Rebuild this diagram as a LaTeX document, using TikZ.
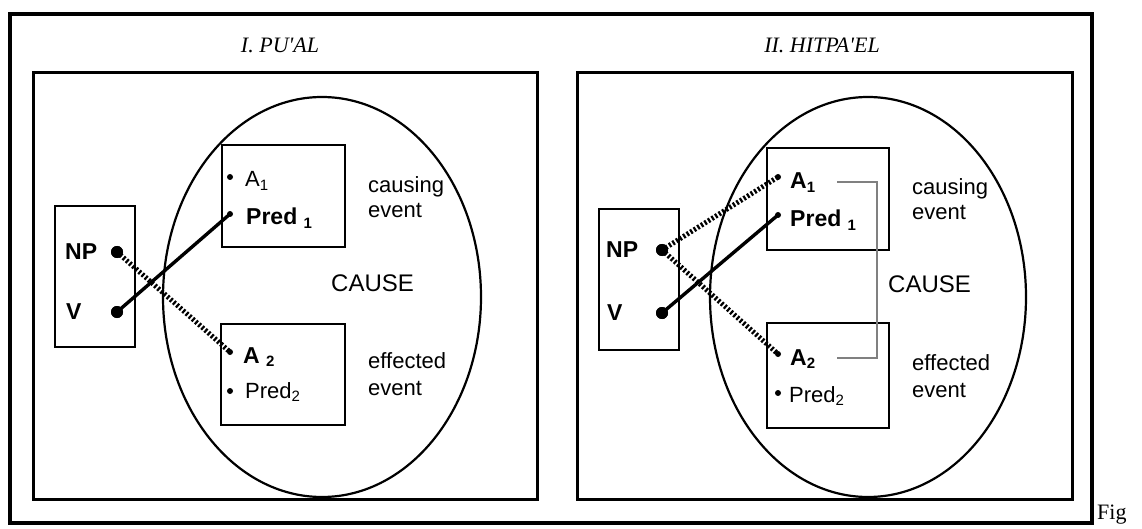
\documentclass[tikz,border=0pt]{standalone}
\usepackage{fontspec}
\setmainfont{Liberation Sans}
\newfontfamily\timesfont{Liberation Serif}
\newcommand{\sbs}[1]{\raisebox{-0.3ex}{\fontsize{15}{15}\selectfont #1}}
\tikzset{
  frame/.style={draw, line width=3.2pt},
  panel/.style={draw, line width=3pt},
  subbox/.style={draw, fill=white, line width=2.5pt},
  oval/.style={draw, line width=2.2pt},
  bigdot/.style={circle, fill, inner sep=0pt, minimum size=12pt},
  bul/.style={circle, fill, inner sep=0pt, minimum size=6pt},
  link/.style={line width=3.4pt},
  hatch/.style={line width=5pt, dash pattern=on 2.2pt off 2pt},
  brack/.style={draw=black!50, line width=1.3pt},
  lbl/.style={font=\fontsize{22}{25}\selectfont, anchor=base west, inner sep=0pt},
  bigl/.style={font=\bfseries\fontsize{23}{25}\selectfont, anchor=base west, inner sep=0pt},
  cause/.style={font=\fontsize{24}{26}\selectfont, anchor=base west, inner sep=0pt},
  title/.style={font=\timesfont\itshape\fontsize{22}{24}\selectfont, inner sep=0pt},
  evt/.style={font=\fontsize{22}{25}\selectfont, anchor=base west, inner sep=0pt, align=left}
}
\begin{document}
\begin{tikzpicture}[x=1pt, y=-1pt]
\useasboundingbox (0,0) rectangle (1142,529);

% outer frame and the two panels
\draw[frame] (10,14) rectangle (1092,523);
\draw[panel] (33,73) rectangle (537,499);
\draw[panel] (577,73) rectangle (1072,499);

\node[title] (t1) at (280,45) {I. PU'AL};
\node[title] (t2) at (822,45) {II. HITPA'EL};

% ---------- panel I ----------
\draw[oval] (322,297) ellipse [x radius=159, y radius=200];
\draw[subbox] (55,206) rectangle (135,347);
\draw[subbox] (222,145) rectangle (345,247);
\draw[subbox] (221,324) rectangle (345,425);

\node[bigl] (np1) at (65,259) {NP};
\node[bigl] (v1) at (66,319) {V};
\node[bigdot] (npd1) at (117,252) {};
\node[bigdot] (vd1) at (117,312) {};

\node[bul] (a1l) at (230,177) {};
\node[bul] (p1l) at (230,214) {};
\node[bul] (a2l) at (230,352) {};
\node[bul] (p2l) at (230,391) {};

\node[lbl] (ta1l) at (245,187) {A\sbs{1}};
\node[bigl] (tp1l) at (246,225) {Pred \sbs{1}};
\node[bigl] (ta2l) at (243,363) {A \sbs{2}};
\node[lbl] (tp2l) at (245,398) {Pred\sbs{2}};

\node[evt] (c1) at (368,193) {causing};
\node[evt] (c1b) at (368,218) {event};
\node[cause] (cau1) at (331,291) {CAUSE};
\node[evt] (e1) at (368,368) {effected};
\node[evt] (e1b) at (368,395) {event};

\draw[hatch] (npd1.center) -- (a2l.center);
\draw[link] (vd1.center) -- (p1l.center);

% ---------- panel II ----------
\draw[oval] (868,297) ellipse [x radius=158, y radius=200];
\draw[subbox] (599,209) rectangle (679,350);
\draw[subbox] (767,148) rectangle (889,250);
\draw[subbox] (767,323) rectangle (889,428);

\node[bigl] (np2) at (606,258) {NP};
\node[bigl] (v2) at (607,320) {V};
\node[bigdot] (npd2) at (662,250) {};
\node[bigdot] (vd2) at (662,313) {};

\node[bul] (a1r) at (778,177) {};
\node[bul] (p1r) at (778,215) {};
\node[bul] (a2r) at (778,354) {};
\node[bul] (p2r) at (778,393) {};

\node[bigl] (ta1r) at (790,189) {A\sbs{1}};
\node[bigl] (tp1r) at (790,227) {Pred \sbs{1}};
\node[bigl] (ta2r) at (790,365) {A\sbs{2}};
\node[lbl] (tp2r) at (789,402) {Pred\sbs{2}};

\coordinate (bk1) at (837,182);
\coordinate (bk2) at (877,182);
\coordinate (bk3) at (877,358);
\coordinate (bk4) at (837,358);
\draw[brack] (bk1) -- (bk2) -- (bk3) -- (bk4);

\node[evt] (c2) at (912,195) {causing};
\node[evt] (c2b) at (912,220) {event};
\node[cause] (cau2) at (888,292) {CAUSE};
\node[evt] (e2) at (912,370) {effected};
\node[evt] (e2b) at (912,397) {event};

\draw[hatch] (npd2.center) -- (a1r.center);
\draw[hatch] (npd2.center) -- (a2r.center);
\draw[link] (vd2.center) -- (p1r.center);

% dots redrawn over the connector ends
\node[bigdot] at (npd1) {};
\node[bigdot] at (vd1) {};
\node[bigdot] at (npd2) {};
\node[bigdot] at (vd2) {};

\node[font=\timesfont\fontsize{22}{24}\selectfont, anchor=base west, inner sep=0pt] (fig) at (1097,519) {Fig};
\end{tikzpicture}
\end{document}
